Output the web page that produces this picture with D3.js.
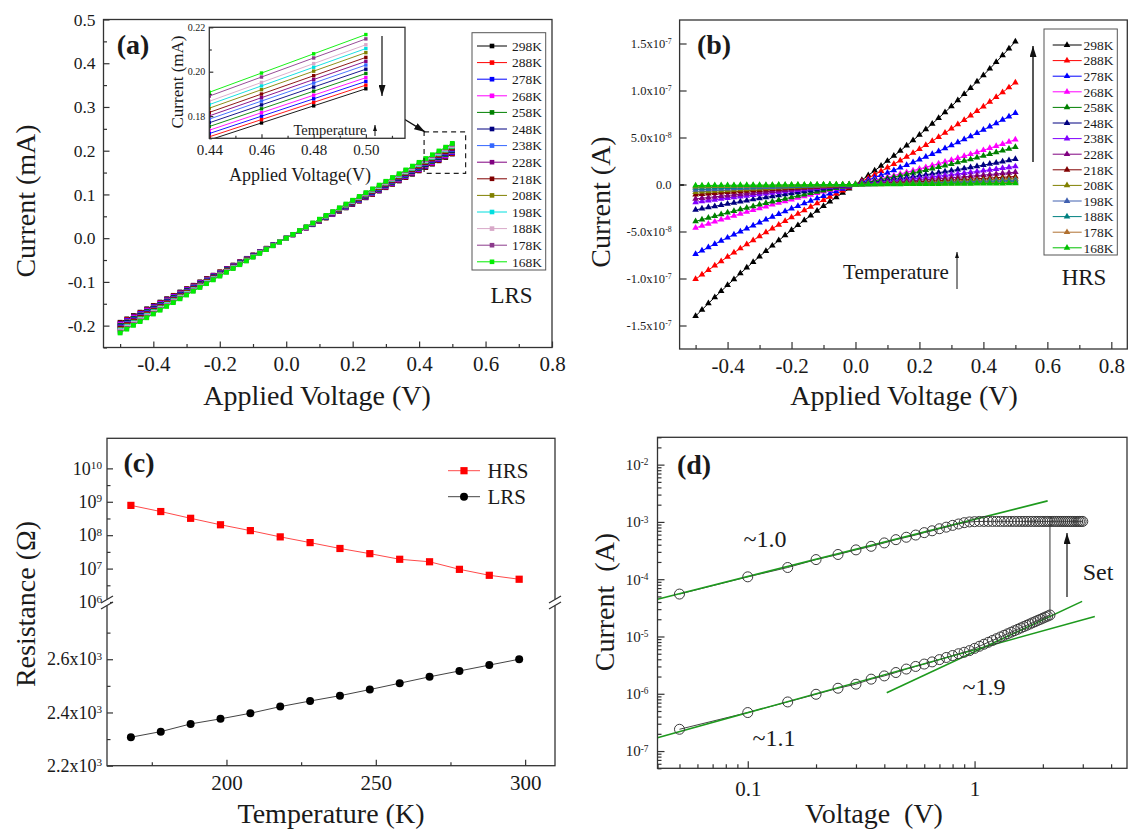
<!DOCTYPE html>
<html lang="en">
<head>
<meta charset="utf-8">
<title>Temperature dependent switching</title>
<script src="https://d3js.org/d3.v7.min.js"></script>
<style>
  body { margin: 0; background: #fff; }
  text { font-family: "Liberation Serif", "Times New Roman", serif; fill: #1a1a1a; }
</style>
</head>
<body>
<script>
// ---- data ----
// temperatures in legend order (hot -> cold)
var temps = [298, 288, 278, 268, 258, 248, 238, 228, 218, 208, 198, 188, 178, 168];
var tempLabels = temps.map(function (t) { return t + "K"; });

// (c) resistance vs temperature (ascending T)
var tempAsc = [168, 178, 188, 198, 208, 218, 228, 238, 248, 258, 268, 278, 288, 298];
var hrsOhm = [7.8e8, 5.1e8, 3.2e8, 2.05e8, 1.37e8, 8.9e7, 6.0e7, 4.0e7, 2.8e7, 1.9e7, 1.6e7, 9.5e6, 6.3e6, 4.8e6];
var lrsOhm = [2307, 2328, 2357, 2376, 2397, 2422, 2443, 2463, 2486, 2510, 2534, 2556, 2578, 2600];

// (a) LRS sweep: ohmic, I = V / R(T) with R from panel (c); sweep every 0.02 V
var sweepV = d3.range(-25, 26).map(function (k) { return +(k * 0.02).toFixed(2); });
var colorsA = ["#000000", "#ff0000", "#0000ff", "#ff00ff", "#008000", "#000080", "#3366ff",
               "#800080", "#800000", "#808000", "#00dede", "#d8a8c8", "#8b3a8b", "#00ee00"];

// (b) HRS sweep: current read at +0.5 V and -0.5 V for every curve (A)
var hrsPosI = [1.52e-7, 1.085e-7, 7.6e-8, 4.77e-8, 3.98e-8, 2.7e-8, 1.92e-8, 1.31e-8, 8.5e-9, 6.0e-9, 4.5e-9, 3.0e-9, 2.0e-9, 1.2e-9];
var hrsNegI = [-1.40e-7, -1.007e-7, -7.4e-8, -4.62e-8, -3.92e-8, -2.7e-8, -1.89e-8, -1.53e-8, -1.07e-8, -8.0e-9, -5.7e-9, -3.6e-9, -2.1e-9, -1.1e-9];
var hrsBow = 0.22; // curvature, I(0.25V)/I(0.5V) ~ 0.445
var colorsB = ["#000000", "#ff0000", "#0000ff", "#ff00ff", "#008000", "#000080", "#8000ff",
               "#800080", "#800000", "#808000", "#4060b0", "#008080", "#b07030", "#00c000"];
var bTickVals = [-1.5e-7, -1e-7, -5e-8, 0, 5e-8, 1e-7, 1.5e-7];
var bTickBase = ["-1.5x10", "-1.0x10", "-5.0x10", "0.0", "5.0x10", "1.0x10", "1.5x10"];
var bTickExp = ["-7", "-7", "-8", null, "-8", "-7", "-7"];

// (d) log-log I-V
var dV_lrs = d3.range(1, 61).map(function (k) { return +(k * 0.05).toFixed(2); });
var dI_lrs = [5.5e-5, 1.1e-4, 1.6e-4, 2.2e-4, 2.7e-4, 3.25e-4, 3.75e-4, 4.3e-4, 4.9e-4, 5.4e-4,
              5.9e-4, 6.5e-4, 7.0e-4, 7.6e-4, 8.1e-4, 8.7e-4, 9.2e-4, 9.7e-4, 1.0e-3,
              1.01e-3, 1.02e-3, 1.02e-3, 1.02e-3, 1.02e-3, 1.02e-3, 1.02e-3, 1.02e-3, 1.02e-3, 1.02e-3,
              1.02e-3, 1.02e-3, 1.02e-3, 1.02e-3, 1.02e-3, 1.02e-3, 1.02e-3, 1.02e-3, 1.02e-3, 1.02e-3,
              1.02e-3, 1.02e-3, 1.02e-3, 1.02e-3, 1.02e-3, 1.02e-3, 1.02e-3, 1.02e-3, 1.02e-3, 1.02e-3,
              1.02e-3, 1.02e-3, 1.02e-3, 1.02e-3, 1.02e-3, 1.02e-3, 1.02e-3, 1.02e-3, 1.02e-3, 1.02e-3, 1.02e-3];
var dV_hrs = d3.range(1, 44).map(function (k) { return +(k * 0.05).toFixed(2); });
var dI_hrs = [2.4e-7, 4.7e-7, 7.2e-7, 9.8e-7, 1.25e-6, 1.47e-6, 1.8e-6, 2.05e-6, 2.35e-6, 2.7e-6,
              3.0e-6, 3.3e-6, 3.6e-6, 3.95e-6, 4.3e-6, 4.65e-6, 5.0e-6, 5.3e-6, 5.67e-6, 6.2e-6,
              6.75e-6, 7.33e-6, 7.92e-6, 8.53e-6, 9.16e-6, 9.81e-6, 1.048e-5, 1.117e-5, 1.188e-5, 1.261e-5,
              1.335e-5, 1.411e-5, 1.489e-5, 1.569e-5, 1.651e-5, 1.734e-5, 1.82e-5, 1.906e-5, 1.995e-5, 2.086e-5,
              2.177e-5, 2.271e-5, 2.37e-5];
var fitV = [[0.04, 2.1], [0.04, 3.39], [0.41, 2.98]];
var fitI = [[4.46e-5, 2.33e-3], [1.71e-7, 2.24e-5], [1.04e-6, 4.1e-5]];

// ---- drawing ----
var SERIF = "'Liberation Serif', 'Times New Roman', serif";
var svg = d3.select("body").append("svg").attr("width", 1132).attr("height", 829);
var defs = svg.append("defs");
function headMarker(id, len, wid) {
  defs.append("marker").attr("id", id).attr("viewBox", "0 0 10 10").attr("refX", 10).attr("refY", 5)
    .attr("markerWidth", len).attr("markerHeight", wid).attr("markerUnits", "userSpaceOnUse")
    .attr("preserveAspectRatio", "none").attr("orient", "auto")
    .append("path").attr("d", "M0,0L10,5L0,10Z").attr("fill", "#111");
}
headMarker("head", 11, 7);
headMarker("headS", 6, 4);

function frame(x0, y0, x1, y1) {
  svg.append("rect").attr("x", x0).attr("y", y0).attr("width", x1 - x0).attr("height", y1 - y0)
    .attr("fill", "none").attr("stroke", "#333").attr("stroke-width", 1.3);
}
function styleAxis(g, size) {
  g.select(".domain").remove();
  g.attr("font-family", SERIF).attr("font-size", size || 10);
  g.selectAll(".tick line").attr("stroke", "#333").attr("stroke-width", 1.2);
  g.selectAll(".tick text").attr("fill", "#1a1a1a").style("font-family", SERIF);
}
function addAxis(axisFn, scale, tr, majors, minors, fmt, size, pad, majLen, minLen) {
  var gm = svg.append("g").attr("transform", tr)
    .call(axisFn(scale).tickValues(minors).tickSize(-minLen).tickFormat(""));
  styleAxis(gm);
  var g = svg.append("g").attr("transform", tr)
    .call(axisFn(scale).tickValues(majors).tickSize(-majLen).tickPadding(pad).tickFormat(fmt));
  styleAxis(g, size);
  return g;
}
function supLabels(g, f) {
  g.selectAll(".tick text").each(function (d) {
    var p = f(d), t = d3.select(this);
    t.text(null);
    t.append("tspan").text(p[0]);
    if (p[1] != null) t.append("tspan").attr("dy", "-0.5em").attr("font-size", "0.62em").text(p[1]);
  });
}
function label(x, y, s, size, opt) {
  opt = opt || {};
  var t = svg.append("text").attr("x", x).attr("y", y).attr("dy", "0.35em")
    .attr("font-size", size).attr("text-anchor", opt.anchor || "middle").text(s);
  if (opt.bold) t.attr("font-weight", "bold");
  if (opt.rotate) t.attr("x", 0).attr("y", 0).attr("transform", "translate(" + x + "," + y + ") rotate(-90)");
  return t;
}
function arrow(x1, y1, x2, y2, id, w) {
  svg.append("line").attr("x1", x1).attr("y1", y1).attr("x2", x2).attr("y2", y2)
    .attr("stroke", "#111").attr("stroke-width", w || 1.2).attr("marker-end", "url(#" + id + ")");
}
function ticksBetween(lo, hi, step) {
  var out = [];
  for (var v = lo; v <= hi + 1e-12; v += step) out.push(+v.toFixed(6));
  return out;
}
function logMinors(d0, d1, lo, hi) {
  var out = [];
  for (var n = d0; n <= d1; n++) for (var k = 2; k <= 9; k++) {
    var v = k * Math.pow(10, n);
    if (v >= lo && v <= hi) out.push(v);
  }
  return out;
}

// ===== (a) =====
var xa = d3.scaleLinear().domain([-0.55, 0.8]).range([103.5, 552]);
var ya = d3.scaleLinear().domain([-0.25, 0.5]).range([347.5, 19.5]);
var lineA = d3.line().x(function (d) { return xa(d[0]); }).y(function (d) { return ya(d[1]); });
var seriesA = temps.map(function (t) {
  var R = lrsOhm[tempAsc.indexOf(t)];
  return sweepV.map(function (v) { return [v, v / R * 1000]; });
});
seriesA.forEach(function (pts, i) {
  svg.append("path").datum(pts).attr("d", lineA).attr("fill", "none").attr("stroke", colorsA[i]).attr("stroke-width", 1);
  svg.append("g").selectAll("rect").data(pts).join("rect")
    .attr("x", function (d) { return xa(d[0]) - 2.4; }).attr("y", function (d) { return ya(d[1]) - 2.4; })
    .attr("width", 4.8).attr("height", 4.8).attr("fill", colorsA[i]);
});
frame(103.5, 19.5, 552, 347.5);
addAxis(d3.axisBottom, xa, "translate(0,347.5)", ticksBetween(-0.4, 0.8, 0.2), ticksBetween(-0.5, 0.7, 0.2),
  function (d) { return d.toFixed(1); }, 21, 9, 6, 3.5);
addAxis(d3.axisLeft, ya, "translate(103.5,0)", ticksBetween(-0.2, 0.5, 0.1), ticksBetween(-0.25, 0.45, 0.1),
  function (d) { return d.toFixed(1); }, 17.5, 8, 6, 3.5);
label(317, 395, "Applied Voltage (V)", 28);
label(25, 201, "Current (mA)", 28, { rotate: true });
label(133, 44, "(a)", 28, { bold: true });
label(511.5, 295, "LRS", 23);

// zoom box + inset
var boxV = [0.415, 0.54], boxI = [0.148, 0.243];
svg.append("rect").attr("x", xa(boxV[0])).attr("y", ya(boxI[1]))
  .attr("width", xa(boxV[1]) - xa(boxV[0])).attr("height", ya(boxI[0]) - ya(boxI[1]))
  .attr("fill", "none").attr("stroke", "#222").attr("stroke-width", 1.2).attr("stroke-dasharray", "5,4");
arrow(394.6, 113.3, xa(boxV[0]) + 1, ya(boxI[1]), "head", 1.3);

var xi = d3.scaleLinear().domain([0.44, 0.515]).range([209.3, 405]);
var yi = d3.scaleLinear().domain([0.17, 0.22]).range([138.3, 27.3]);
svg.append("rect").attr("x", 209.3).attr("y", 27.3).attr("width", 405 - 209.3).attr("height", 111).attr("fill", "#fff");
defs.append("clipPath").attr("id", "insetClip").append("rect")
  .attr("x", 209.3).attr("y", 27.3).attr("width", 405 - 209.3).attr("height", 111);
var gi = svg.append("g").attr("clip-path", "url(#insetClip)");
var lineI = d3.line().x(function (d) { return xi(d[0]); }).y(function (d) { return yi(d[1]); });
seriesA.forEach(function (pts, i) {
  var sub = pts.filter(function (d) { return d[0] >= 0.42; });
  gi.append("path").datum(sub).attr("d", lineI).attr("fill", "none").attr("stroke", colorsA[i]).attr("stroke-width", 0.9);
  gi.append("g").selectAll("rect").data(sub).join("rect")
    .attr("x", function (d) { return xi(d[0]) - 1.7; }).attr("y", function (d) { return yi(d[1]) - 1.7; })
    .attr("width", 3.4).attr("height", 3.4).attr("fill", colorsA[i]);
});
frame(209.3, 27.3, 405, 138.3);
addAxis(d3.axisBottom, xi, "translate(0,138.3)", [0.44, 0.46, 0.48, 0.50], [0.45, 0.47, 0.49, 0.51],
  function (d) { return d.toFixed(2); }, 15, 6, 4, 2.5);
addAxis(d3.axisLeft, yi, "translate(209.3,0)", [0.18, 0.20, 0.22], [0.17, 0.19, 0.21],
  function (d) { return d.toFixed(2); }, 10, 4, 4, 2.5);
label(300, 175, "Applied Voltage(V)", 18);
label(176.7, 82, "Current (mA)", 17, { rotate: true });
label(330, 130, "Temperature", 14.5);
arrow(375, 136, 375, 125, "headS", 1);
arrow(382, 36, 382, 96, "head", 1.2);

// legend (a)
svg.append("rect").attr("x", 472).attr("y", 32.7).attr("width", 73.7).attr("height", 237.3)
  .attr("fill", "#fff").attr("stroke", "#555").attr("stroke-width", 1);
tempLabels.forEach(function (s, i) {
  var y = 46 + i * 16.6;
  svg.append("line").attr("x1", 477).attr("x2", 507).attr("y1", y).attr("y2", y).attr("stroke", colorsA[i]).attr("stroke-width", 1);
  svg.append("rect").attr("x", 489.7).attr("y", y - 2.3).attr("width", 4.6).attr("height", 4.6).attr("fill", colorsA[i]);
  label(512, y, s, 13.5, { anchor: "start" });
});

// ===== (b) =====
var xb = d3.scaleLinear().domain([-0.55, 0.85]).range([679.6, 1127.3]);
var yb = d3.scaleLinear().domain([-1.75e-7, 1.75e-7]).range([349, 20]);
var lineB = d3.line().x(function (d) { return xb(d[0]); }).y(function (d) { return yb(d[1]); });
var tri = d3.symbol(d3.symbolTriangle).size(19);
temps.forEach(function (t, i) {
  var pts = sweepV.map(function (v) {
    var s = Math.abs(v) / 0.5;
    var end = v >= 0 ? hrsPosI[i] : hrsNegI[i];
    return [v, end * s * (1 - hrsBow + hrsBow * s)];
  });
  svg.append("path").datum(pts).attr("d", lineB).attr("fill", "none").attr("stroke", colorsB[i]).attr("stroke-width", 1);
  svg.append("g").selectAll("path").data(pts).join("path").attr("d", tri)
    .attr("transform", function (d) { return "translate(" + xb(d[0]) + "," + yb(d[1]) + ")"; })
    .attr("fill", colorsB[i]);
});
frame(679.6, 20, 1127.3, 349);
addAxis(d3.axisBottom, xb, "translate(0,349)", ticksBetween(-0.4, 0.8, 0.2), ticksBetween(-0.5, 0.7, 0.2),
  function (d) { return d.toFixed(1); }, 21, 9, 7, 4);
var gby = addAxis(d3.axisLeft, yb, "translate(679.6,0)", bTickVals, ticksBetween(-1.25e-7, 1.25e-7, 5e-8),
  function (d) { return d; }, 12.5, 8, 7, 4);
supLabels(gby, function (d) {
  var k = bTickVals.indexOf(d);
  return [bTickBase[k], bTickExp[k]];
});
label(904, 395, "Applied Voltage (V)", 28);
label(600, 202, "Current (A)", 28, { rotate: true });
label(714, 44, "(b)", 28, { bold: true });
label(1084, 277, "HRS", 23);
label(896, 272, "Temperature", 21);
arrow(957, 289, 957, 252, "headS", 1);
arrow(1033, 162, 1033, 46, "head", 1.4);

svg.append("rect").attr("x", 1044).attr("y", 29).attr("width", 73.3).attr("height", 226)
  .attr("fill", "#fff").attr("stroke", "#555").attr("stroke-width", 1);
tempLabels.forEach(function (s, i) {
  var y = 45 + i * 15.6;
  svg.append("line").attr("x1", 1052.7).attr("x2", 1081.7).attr("y1", y).attr("y2", y).attr("stroke", colorsB[i]).attr("stroke-width", 1);
  svg.append("path").attr("d", tri).attr("transform", "translate(1067," + y + ")").attr("fill", colorsB[i]);
  label(1083.5, y, s, 13.5, { anchor: "start" });
});

// ===== (c) =====
var xc = d3.scaleLinear().domain([160, 310]).range([107, 555]);
var ycU = d3.scaleLog().domain([1e6, Math.pow(10, 10.9)]).range([602, 438.3]);
var ycL = d3.scaleLinear().domain([2200, 2800]).range([765.7, 606]);
var hrsPts = tempAsc.map(function (t, i) { return [t, hrsOhm[i]]; });
var lrsPts = tempAsc.map(function (t, i) { return [t, lrsOhm[i]]; });
svg.append("path").datum(hrsPts).attr("fill", "none").attr("stroke", "#ff4a4a").attr("stroke-width", 1)
  .attr("d", d3.line().x(function (d) { return xc(d[0]); }).y(function (d) { return ycU(d[1]); }));
svg.append("g").selectAll("rect").data(hrsPts).join("rect")
  .attr("x", function (d) { return xc(d[0]) - 3.6; }).attr("y", function (d) { return ycU(d[1]) - 3.6; })
  .attr("width", 7.2).attr("height", 7.2).attr("fill", "#ff0000");
svg.append("path").datum(lrsPts).attr("fill", "none").attr("stroke", "#444").attr("stroke-width", 1)
  .attr("d", d3.line().x(function (d) { return xc(d[0]); }).y(function (d) { return ycL(d[1]); }));
svg.append("g").selectAll("circle").data(lrsPts).join("circle")
  .attr("cx", function (d) { return xc(d[0]); }).attr("cy", function (d) { return ycL(d[1]); })
  .attr("r", 4).attr("fill", "#000");
frame(107, 438.3, 555, 765.7);
addAxis(d3.axisBottom, xc, "translate(0,765.7)", [200, 250, 300], [175, 225, 275],
  function (d) { return d; }, 21, 9, 6, 3.5);
var gcu = addAxis(d3.axisLeft, ycU, "translate(107,0)", [1e6, 1e7, 1e8, 1e9, 1e10],
  [Math.pow(10, 6.5), Math.pow(10, 7.5), Math.pow(10, 8.5), Math.pow(10, 9.5)], function (d) { return d; }, 18, 5, 6, 3.5);
supLabels(gcu, function (d) { return ["10", String(Math.round(Math.log10(d)))]; });
var gcl = addAxis(d3.axisLeft, ycL, "translate(107,0)", [2200, 2400, 2600], [2300, 2500, 2700],
  function (d) { return d; }, 18, 5, 6, 3.5);
supLabels(gcl, function (d) { return [(d / 1000).toFixed(1) + "x10", "3"]; });
// axis breaks
[107, 555].forEach(function (x) {
  svg.append("rect").attr("x", x - 3).attr("y", 599.5).attr("width", 6).attr("height", 6).attr("fill", "#fff");
  [599.5, 605.5].forEach(function (c) {
    svg.append("line").attr("x1", x - 6).attr("y1", c + 3.5).attr("x2", x + 6).attr("y2", c - 3.5)
      .attr("stroke", "#333").attr("stroke-width", 1.3);
  });
});
label(331, 813, "Temperature (K)", 28);
label(25, 604, "Resistance (\u03A9)", 28, { rotate: true });
label(139, 462, "(c)", 28, { bold: true });
svg.append("line").attr("x1", 448).attr("x2", 480).attr("y1", 470.7).attr("y2", 470.7).attr("stroke", "#ff4a4a");
svg.append("rect").attr("x", 460.4).attr("y", 467.1).attr("width", 7.2).attr("height", 7.2).attr("fill", "#ff0000");
label(487.5, 470.7, "HRS", 21, { anchor: "start" });
svg.append("line").attr("x1", 448).attr("x2", 480).attr("y1", 496.7).attr("y2", 496.7).attr("stroke", "#444");
svg.append("circle").attr("cx", 464).attr("cy", 496.7).attr("r", 4).attr("fill", "#000");
label(487.5, 496.7, "LRS", 21, { anchor: "start" });

// ===== (d) =====
var xd = d3.scaleLog().domain([0.04, 4.7]).range([657.5, 1127]);
var yd = d3.scaleLog().domain([5e-8, 3e-2]).range([768.3, 437.3]);
var lineD = d3.line().x(function (d) { return xd(d[0]); }).y(function (d) { return yd(d[1]); });
var lrsD = dV_lrs.map(function (v, i) { return [v, dI_lrs[i]]; });
var hrsD = dV_hrs.map(function (v, i) { return [v, dI_hrs[i]]; });
var last = hrsD[hrsD.length - 1];
svg.append("path").datum(hrsD).attr("d", lineD).attr("fill", "none").attr("stroke", "#444").attr("stroke-width", 1);
svg.append("path").datum(lrsD).attr("d", lineD).attr("fill", "none").attr("stroke", "#444").attr("stroke-width", 1);
svg.append("path").datum([last, [last[0], dI_lrs[dI_lrs.length - 1]]]).attr("d", lineD)
  .attr("fill", "none").attr("stroke", "#333").attr("stroke-width", 1);
fitV.forEach(function (v, k) {
  svg.append("path").datum([[v[0], fitI[k][0]], [v[1], fitI[k][1]]]).attr("d", lineD)
    .attr("fill", "none").attr("stroke", "#1e9a1e").attr("stroke-width", 1.6);
});
svg.append("g").selectAll("circle").data(lrsD.concat(hrsD)).join("circle")
  .attr("cx", function (d) { return xd(d[0]); }).attr("cy", function (d) { return yd(d[1]); })
  .attr("r", 5).attr("fill", "none").attr("stroke", "#3a3a3a").attr("stroke-width", 1);
frame(657.5, 437.3, 1127, 768.3);
addAxis(d3.axisBottom, xd, "translate(0,768.3)", [0.1, 1], logMinors(-2, 0, 0.04, 4.7),
  function (d) { return d === 1 ? "1" : "0.1"; }, 21, 13, 7, 4);
var gdy = addAxis(d3.axisLeft, yd, "translate(657.5,0)", [1e-7, 1e-6, 1e-5, 1e-4, 1e-3, 1e-2], logMinors(-8, -2, 5e-8, 3e-2),
  function (d) { return d; }, 15, 9, 7, 4);
supLabels(gdy, function (d) { return ["10", String(Math.round(Math.log10(d)))]; });
label(874, 813, "Voltage\u00a0\u00a0(V)", 28);
label(604, 602, "Current\u00a0\u00a0(A)", 28, { rotate: true });
label(694, 464, "(d)", 28, { bold: true });
label(765, 539, "~1.0", 24);
label(774, 738, "~1.1", 24);
label(984, 687, "~1.9", 24);
label(1098, 572, "Set", 24);
arrow(1067, 597, 1067, 533, "head", 1.2);
</script>
</body>
</html>
